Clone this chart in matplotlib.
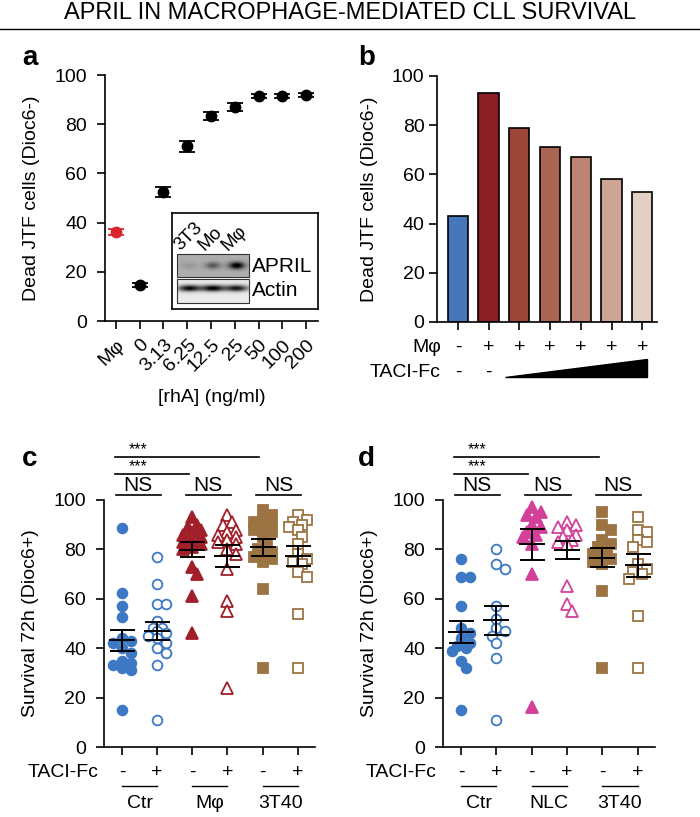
import numpy as np
import matplotlib
matplotlib.use("Agg")
import matplotlib.pyplot as plt
import matplotlib.transforms as mtransforms
from matplotlib.patches import Polygon, Rectangle
from matplotlib.lines import Line2D

plt.rcParams['font.family'] = ['Liberation Sans', 'DejaVu Sans']
plt.rcParams['font.size'] = 14
plt.rcParams['axes.linewidth'] = 1.2
plt.rcParams['xtick.major.width'] = 1.2
plt.rcParams['ytick.major.width'] = 1.2
plt.rcParams['xtick.major.size'] = 5
plt.rcParams['ytick.major.size'] = 5

W, H = 700, 817

# ---- panel a: dose response to rhA
rha_labels = ['Mφ', '0', '3.13', '6.25', '12.5', '25', '50', '100', '200']
dead_a = [36, 14.5, 52.5, 71, 83.5, 87, 91.5, 91.5, 92]
err_a = [1.2, 0.8, 2.0, 2.2, 1.6, 1.5, 0.8, 0.8, 0.8]
point_colors_a = ['#d8262c'] + ['black'] * 8

# western blot inset (relative band strength per lane)
blot_lanes = ['3T3', 'Mo', 'Mφ']
april_band = [0.12, 0.45, 1.0]
actin_band = [0.95, 1.0, 0.9]

# ---- panel b: TACI-Fc titration
bar_vals = [43, 93, 79, 71, 67, 58, 53]
bar_colors = ['#4677bb', '#8c1f25', '#9c4638', '#aa6552', '#bb8370', '#cca595', '#e3cfc4']
mphi_signs = ['-', '+', '+', '+', '+', '+', '+']
taci_signs_b = ['-', '-']

# ---- panel c
ctr_minus_c = [88.5, 62.5, 57, 52.5, 44, 43, 42, 40, 38, 35, 34, 33, 32, 31, 15]
ctr_plus_c = [77, 66, 58, 58, 51, 48, 48, 47, 46, 45, 44, 42, 40, 38, 33, 11]
mphi_minus_c = [93, 90, 89, 88, 87, 86, 85, 84, 83, 82, 81, 80, 73, 70, 61, 46]
mphi_plus_c = [94, 91, 90, 88, 87, 86, 85, 84, 83, 82, 80, 78, 72, 59, 55, 24]
t3t40_minus_c = [96, 94, 92, 91, 90, 89, 88, 87, 85, 82, 80, 79, 78, 77, 76, 75, 64, 32]
t3t40_plus_c = [94, 92, 91, 90, 89, 88, 85, 82, 78, 76, 75, 74, 71, 69, 54, 32]

# ---- panel d
ctr_minus_d = [76, 69, 69, 57, 48, 46, 44, 42, 41, 40, 39, 35, 32, 15]
ctr_plus_d = [80, 74, 72, 57, 52, 48, 47, 45, 42, 36, 11]
nlc_minus_d = [97, 95, 94, 93, 90, 89, 87, 86, 85, 82, 70, 16]
nlc_plus_d = [91, 90, 89, 88, 86, 85, 84, 83, 82, 65, 58, 55]
t3t40_minus_d = [95, 90, 88, 84, 82, 81, 79, 78, 77, 76, 75, 74, 63, 32]
t3t40_plus_d = [93, 88, 87, 84, 83, 81, 74, 72, 71, 70, 68, 53, 32]

taci_signs = ['-', '+', '-', '+', '-', '+']
groups_c = ['Ctr', 'Mφ', '3T40']
groups_d = ['Ctr', 'NLC', '3T40']

blue = '#3c78c4'
red = '#a01f28'
pink = '#d2409a'
brown = '#9c7443'


def px(x0, y0, x1, y1):
    return [x0 / W, 1 - y1 / H, (x1 - x0) / W, (y1 - y0) / H]


def style(ax, ypad=7):
    for s in ['top', 'right']:
        ax.spines[s].set_visible(False)
    ax.tick_params(direction='out', length=6)
    ax.tick_params(axis='y', pad=ypad)
    ax.tick_params(axis='x', pad=5)


def swarm(vals, xscale, yscale, d=7.5, step=4.5, kmax=2):
    # simple beeswarm in pixel space
    vals = np.asarray(vals, float)
    offs = np.zeros(len(vals))
    placed = []
    for idx in np.argsort(vals)[::-1]:
        y = vals[idx] * yscale
        best, bestd = 0, -1
        for k in [0, 1, -1, 2, -2, 3, -3][:2 * kmax + 1]:
            x = k * step
            md = min([np.hypot(x - a, y - b) for a, b in placed], default=1e9)
            if md >= d:
                best = x
                break
            if md > bestd:
                best, bestd = x, md
        placed.append((best, y))
        offs[idx] = best / xscale
    return offs


fig = plt.figure(figsize=(7, 8.17), dpi=100)

fig.text(0.5, 1 - 13 / H, 'APRIL IN MACROPHAGE-MEDIATED CLL SURVIVAL',
         ha='center', va='center', fontsize=17)
fig.add_artist(Line2D([0, 1], [1 - 29 / H, 1 - 29 / H], color='black', lw=1.0,
                      transform=fig.transFigure))

# ================= panel a
axa = fig.add_axes(px(105, 75, 318, 321))
style(axa)
xa = np.arange(len(rha_labels))
for i in xa:
    axa.errorbar(xa[i], dead_a[i], yerr=err_a[i], fmt='o', color=point_colors_a[i],
                 ms=7.5, capsize=6, elinewidth=1.3, capthick=1.3, zorder=4)
axa.set_xlim(-0.46, 8.5)
axa.set_ylim(0, 100)
axa.set_yticks([0, 20, 40, 60, 80, 100])
axa.set_xticks(xa)
axa.set_xticklabels(rha_labels, rotation=45, ha='right', rotation_mode='anchor')
axa.set_ylabel('Dead JTF cells (Dioc6-)', labelpad=10)
axa.set_xlabel('[rhA] (ng/ml)', labelpad=10)
fig.text(22 / W, 1 - 58 / H, 'a', fontsize=20, fontweight='bold', ha='left', va='center')

# inset box with blot
axi = fig.add_axes(px(172, 213, 318, 309))
axi.set_xlim(0, 146)
axi.set_ylim(96, 0)
axi.set_xticks([])
axi.set_yticks([])
for s in axi.spines.values():
    s.set_linewidth(1.2)
rows = np.linspace(0, 1, 30)[:, None]
cols = np.linspace(0, 1, 90)[None, :]
lane_prof_a = sum(a * np.exp(-((cols - (i + 0.5) / 3) / 0.11) ** 2) for i, a in enumerate(april_band))
img_a = 0.32 + lane_prof_a * 0.75 * np.exp(-((rows - 0.5) / 0.16) ** 2)
lane_prof_b = sum(a * np.exp(-((cols - (i + 0.5) / 3) / 0.16) ** 2) for i, a in enumerate(actin_band))
img_b = 0.08 + np.clip(lane_prof_b, 0, 1) * 0.95 * np.exp(-((rows - 0.38) / 0.14) ** 2)
axi.imshow(np.clip(img_a, 0, 1), cmap='gray_r', vmin=0, vmax=1, extent=[5, 77, 64, 41],
           aspect='auto', interpolation='bilinear')
axi.imshow(np.clip(img_b, 0, 1), cmap='gray_r', vmin=0, vmax=1, extent=[5, 77, 90, 66],
           aspect='auto', interpolation='bilinear')
axi.add_patch(Rectangle((5, 41), 72, 23, fill=False, lw=0.8, ec='#333333'))
axi.add_patch(Rectangle((5, 66), 72, 24, fill=False, lw=0.8, ec='#333333'))
for i, lab in enumerate(blot_lanes):
    axi.text(11 + i * 24, 41, lab, rotation=45, ha='left', va='bottom',
             rotation_mode='anchor', fontsize=13.5)
axi.text(80, 53, 'APRIL', ha='left', va='center', fontsize=15)
axi.text(80, 78, 'Actin', ha='left', va='center', fontsize=15)

# ================= panel b
axb = fig.add_axes(px(437, 76, 657, 322))
style(axb, ypad=3)
xb = np.arange(len(bar_vals))
axb.bar(xb, bar_vals, width=0.66, color=bar_colors, edgecolor='black', linewidth=1.2)
axb.set_xlim(-0.68, 6.48)
axb.set_ylim(0, 100)
axb.set_yticks([0, 20, 40, 60, 80, 100])
axb.set_xticks(xb)
axb.set_xticklabels([])
axb.set_ylabel('Dead JTF cells (Dioc6-)', labelpad=10)
tb = mtransforms.blended_transform_factory(axb.transData, axb.transAxes)
axb.text(-0.55, -0.102, 'Mφ', transform=tb, ha='right', va='center', clip_on=False)
for i, s in enumerate(mphi_signs):
    axb.text(xb[i], -0.102, s, transform=tb, ha='center', va='center', clip_on=False)
axb.text(-0.55, -0.205, 'TACI-Fc', transform=tb, ha='right', va='center', clip_on=False)
for i, s in enumerate(taci_signs_b):
    axb.text(xb[i], -0.205, s, transform=tb, ha='center', va='center', clip_on=False)
axb.add_patch(Polygon([[1.53, -0.224], [6.16, -0.224], [6.16, -0.15]], closed=True,
                      transform=tb, color='black', clip_on=False))
fig.text(358 / W, 1 - 58 / H, 'b', fontsize=20, fontweight='bold', ha='left', va='center')


# ================= panels c and d
def scatter_panel(ax, data, group_names, colors, letter, letter_x):
    style(ax)
    markers = ['o', 'o', '^', '^', 's', 's']
    sizes = [7, 7, 8, 8, 7.5, 7.5]
    for i, vals in enumerate(data):
        offs = swarm(vals, 35.2, 2.47)
        filled = i % 2 == 0
        c = colors[i // 2]
        ax.plot(i + offs, vals, ls='none', marker=markers[i], ms=sizes[i],
                mfc=c if filled else 'white', mec=c, mew=1.3, zorder=3, clip_on=False)
        m = np.mean(vals)
        sem = np.std(vals, ddof=1) / np.sqrt(len(vals))
        ax.hlines(m, i - 0.37, i + 0.37, color='black', lw=1.4, zorder=5)
        ax.errorbar(i, m, yerr=sem, fmt='none', ecolor='black', elinewidth=1.4,
                    capsize=9, capthick=1.4, zorder=5)
    ax.set_xlim(-0.51, 5.49)
    ax.set_ylim(0, 100)
    ax.set_yticks([0, 20, 40, 60, 80, 100])
    ax.set_xticks(range(6))
    ax.set_xticklabels([])
    ax.set_ylabel('Survival 72h (Dioc6+)', labelpad=10)
    ax.text(-0.68, -10.3, 'TACI-Fc', ha='right', va='center', clip_on=False)
    for i, s in enumerate(taci_signs):
        ax.text(i, -10.3, s, ha='center', va='center', clip_on=False)
    for g, name in enumerate(group_names):
        x0, x1 = 2 * g, 2 * g + 1
        ax.plot([x0, x1], [-15.6, -15.6], color='black', lw=1.0, clip_on=False)
        ax.text((x0 + x1) / 2, -23, name, ha='center', va='center', clip_on=False)
        ax.plot([x0 - 0.18, x1 + 0.1], [102, 102], color='black', lw=1.2, clip_on=False)
        ax.text((x0 + x1) / 2 - 0.05, 106, 'NS', ha='center', va='center', fontsize=15,
                clip_on=False)
    ax.plot([-0.2, 1.9], [110.5, 110.5], color='black', lw=1.2, clip_on=False)
    ax.plot([-0.2, 3.9], [117.4, 117.4], color='black', lw=1.2, clip_on=False)
    ax.text(0.45, 110.5, '***', ha='center', va='bottom', fontsize=11.5, clip_on=False)
    ax.text(0.45, 117.4, '***', ha='center', va='bottom', fontsize=11.5, clip_on=False)
    fig.text(letter_x / W, 1 - 459 / H, letter, fontsize=20, fontweight='bold',
             ha='left', va='center')


axc = fig.add_axes(px(104, 500, 315, 747))
scatter_panel(axc, [ctr_minus_c, ctr_plus_c, mphi_minus_c, mphi_plus_c, t3t40_minus_c, t3t40_plus_c],
              groups_c, [blue, red, brown], 'c', 22)

axd = fig.add_axes(px(443, 500, 655, 747))
scatter_panel(axd, [ctr_minus_d, ctr_plus_d, nlc_minus_d, nlc_plus_d, t3t40_minus_d, t3t40_plus_d],
              groups_d, [blue, pink, brown], 'd', 358)

fig.savefig('out.png', dpi=100)
